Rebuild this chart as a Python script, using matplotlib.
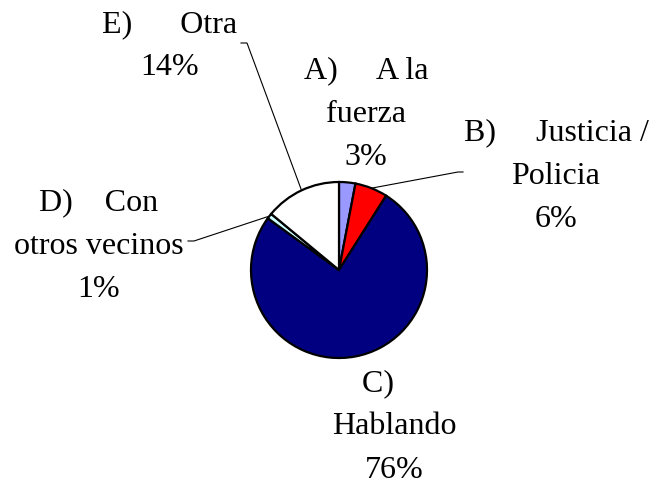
import matplotlib
matplotlib.use("Agg")
import matplotlib.pyplot as plt
import numpy as np

labels = ["A)     A la\nfuerza", "B)     Justicia /\nPolicia", "C)    \nHablando",
          "D)    Con\notros vecinos", "E)      Otra"]
values = [3, 6, 76, 1, 14]
colors = ["#9999FF", "#FF0000", "#000080", "#CCFFFF", "#FFFFFF"]

# label block centres in pixels (x, y from top), and leader line ends (elbow, tip)
label_pos = [(366, 114), (556, 176), (394, 427), (99, 246), (170, 46)]
leader_end = [None, ((458, 172), (463, 172)), None,
              ((194, 241), (188, 241)), ((247, 43), (241, 43))]

plt.rcParams["font.family"] = ["Liberation Serif", "Times New Roman", "DejaVu Serif", "serif"]

W, H = 654, 487
fig = plt.figure(figsize=(W / 100, H / 100), dpi=100)
ax = fig.add_axes([0, 0, 1, 1])

cx, cy, r = 339, H - 270, 88
wedges, _ = ax.pie(values, colors=colors, startangle=90, counterclock=False,
                   center=(cx, cy), radius=r, frame=True,
                   wedgeprops=dict(edgecolor="black", linewidth=1.6))
ax.set_xlim(0, W)
ax.set_ylim(0, H)
ax.set_aspect("equal")
ax.axis("off")

total = sum(values)
for w, lab, v, (lx, ly), end in zip(wedges, labels, values, label_pos, leader_end):
    pct = f"{round(100 * v / total)}%"
    ax.text(lx, H - ly, lab + "\n" + pct, ha="center", va="center",
            multialignment="center", fontsize=23, linespacing=1.66)
    if end is not None:
        mid = np.deg2rad((w.theta1 + w.theta2) / 2)
        x0, y0 = cx + r * np.cos(mid), cy + r * np.sin(mid)
        (ex, ey), (tx, ty) = end
        ax.plot([x0, ex, tx], [y0, H - ey, H - ty], color="black", lw=0.8)

fig.savefig("out.png", dpi=100)
